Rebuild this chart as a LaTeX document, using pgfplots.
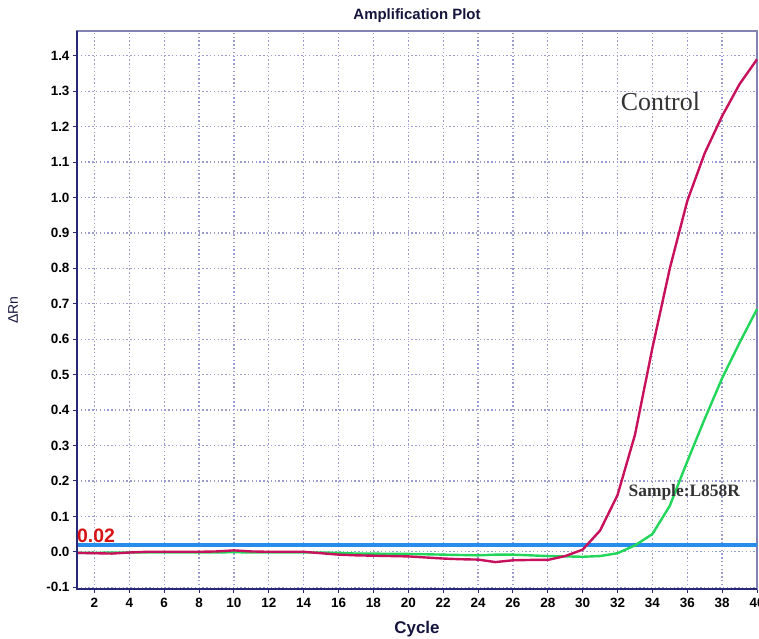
\documentclass[border=0pt]{standalone}
\usepackage{fontspec}
\setmainfont{Liberation Sans}
\newfontfamily\seriffont{Liberation Serif}
\usepackage{pgfplots}
\pgfplotsset{compat=1.18}
\definecolor{navyax}{RGB}{40,40,120}
\definecolor{lightax}{RGB}{130,130,180}
\definecolor{gridc}{RGB}{155,155,205}
\definecolor{ctrl}{RGB}{200,17,92}
\definecolor{samp}{RGB}{34,214,90}
\definecolor{thr}{RGB}{40,140,235}
\definecolor{redlab}{RGB}{215,20,20}
\pgfplotstableread{
x y
1 -0.003
2 -0.004
3 -0.005
4 -0.002
5 0
6 0
7 0
8 0
9 0.001
10 0.004
11 0.001
12 0
13 0
14 0
15 -0.004
16 -0.008
17 -0.010
18 -0.011
19 -0.012
20 -0.013
21 -0.016
22 -0.019
23 -0.021
24 -0.022
25 -0.029
26 -0.024
27 -0.023
28 -0.023
29 -0.012
30 0.006
31 0.060
32 0.160
33 0.330
34 0.575
35 0.800
36 0.990
37 1.125
38 1.230
39 1.320
40 1.390
}\control
\pgfplotstableread{
x y
1 -0.003
2 -0.003
3 -0.002
4 -0.002
5 -0.002
6 -0.002
7 -0.002
8 -0.002
9 -0.002
10 -0.001
11 -0.002
12 -0.002
13 -0.002
14 -0.002
15 -0.002
16 -0.003
17 -0.005
18 -0.005
19 -0.006
20 -0.006
21 -0.007
22 -0.008
23 -0.009
24 -0.010
25 -0.008
26 -0.008
27 -0.010
28 -0.012
29 -0.013
30 -0.014
31 -0.012
32 -0.004
33 0.018
34 0.050
35 0.130
36 0.255
37 0.375
38 0.490
39 0.590
40 0.685
}\sample
\begin{document}
\begin{tikzpicture}
\useasboundingbox (-77bp,-50bp) rectangle (682bp,589bp);
\begin{axis}[
  at={(0,0)}, anchor=south west,
  width=680bp, height=558bp, scale only axis,
  xmin=1, xmax=40, ymin=-0.105, ymax=1.47,
  xtick={2,4,...,40},
  ytick={-0.1,0,0.1,0.2,0.3,0.4,0.5,0.6,0.7,0.8,0.9,1.0,1.1,1.2,1.3,1.4},
  yticklabel style={/pgf/number format/.cd, fixed, fixed zerofill, precision=1},
  /pgf/number format/assume math mode=true,
  tick label style={font=\fontsize{13.5}{13.5}\selectfont\bfseries, text=black},
  xticklabel style={yshift=-2bp},
  tick pos=left, tick align=outside, major tick length=4bp,
  tick style={navyax, line width=1bp},
  grid=major,
  major grid style={gridc, line width=1.3bp, dash pattern=on 1.4bp off 2.4bp},
  axis line style={lightax, line width=1.5bp},
  title={Amplification Plot},
  title style={at={(0.5,1.009)}, anchor=base, inner sep=0, font=\fontsize{15}{15}\selectfont\bfseries, text=navyax!50!black},
  xlabel={Cycle},
  xlabel style={at={(0.5,-0.079)}, anchor=base, inner sep=0, font=\fontsize{17}{17}\selectfont\bfseries, text=navyax!50!black},
  ylabel={ΔRn},
  ylabel style={at={(-0.094,0.5)}, anchor=center, inner sep=0, font=\fontsize{14}{14}\selectfont, text=navyax!50!black},
  clip=false,
]
\addplot[thr, line width=4bp] coordinates {(1,0.02) (40,0.02)};
\addplot[samp, line width=2.4bp] table[x=x,y=y] {\sample};
\addplot[ctrl, line width=2.4bp] table[x=x,y=y] {\control};
\draw[navyax, line width=2.5bp] (rel axis cs:0,1) -- (rel axis cs:0,0) -- (rel axis cs:1,0);
\node[anchor=base west, inner sep=0, text=redlab, font=\fontsize{19.5}{19.5}\selectfont\bfseries] at (axis cs:1,0.025) {0.02};
\node[text=black!80, font=\seriffont\fontsize{26}{26}\selectfont] at (axis cs:34.46,1.27) {Control};
\node[text=black!80, font=\seriffont\bfseries\fontsize{17.5}{17.5}\selectfont] at (axis cs:35.83,0.168) {Sample:L858R};
\end{axis}
\end{tikzpicture}
\end{document}
